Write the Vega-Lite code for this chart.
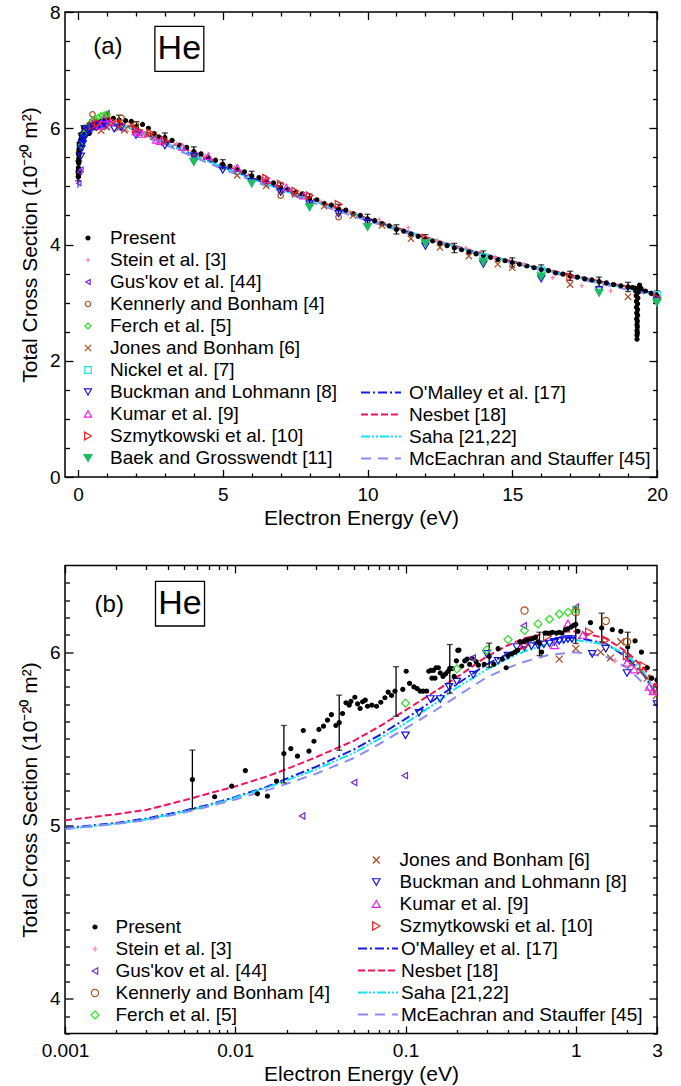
{
"$schema": "https://vega.github.io/schema/vega-lite/v6.json",
"padding": {"left": 18, "top": 2, "right": 0, "bottom": 0},
"bounds": "flush",
"spacing": 88.5,
"background": "white",
"config": {
  "view": {"stroke": "black", "strokeWidth": 1.5},
  "font": "Liberation Sans",
  "axis": {"grid": false, "domain": false, "labelFont": "Liberation Sans", "labelFontSize": 19, "labelColor": "black", "titleFont": "Liberation Sans", "titleFontSize": 21, "titleFontWeight": "normal", "titleColor": "black", "tickColor": "black", "tickWidth": 1.3, "labelFlush": false, "labelOverlap": false},
  "legend": {"labelFont": "Liberation Sans", "labelFontSize": 19, "labelColor": "black", "labelLimit": 600, "padding": 0, "rowPadding": 2, "symbolStrokeWidth": 1.2, "direction": "vertical"},
  "text": {"font": "Liberation Sans", "color": "black"}
},
"datasets": {
"pts": [
{"s":"Present","E":0.0056,"v":5.265},{"s":"Present","E":0.00757,"v":5.166},{"s":"Present","E":0.00953,"v":5.227},{"s":"Present","E":0.01146,"v":5.317},{"s":"Present","E":0.0135,"v":5.183},{"s":"Present","E":0.01545,"v":5.169},{"s":"Present","E":0.01746,"v":5.256},{"s":"Present","E":0.0193,"v":5.415},{"s":"Present","E":0.0212,"v":5.443},{"s":"Present","E":0.0232,"v":5.40},{"s":"Present","E":0.0251,"v":5.548},{"s":"Present","E":0.0271,"v":5.429},{"s":"Present","E":0.029,"v":5.486},{"s":"Present","E":0.031,"v":5.554},{"s":"Present","E":0.033,"v":5.573},{"s":"Present","E":0.0348,"v":5.608},{"s":"Present","E":0.0367,"v":5.64},{"s":"Present","E":0.039,"v":5.577},{"s":"Present","E":0.0408,"v":5.593},{"s":"Present","E":0.0427,"v":5.646},{"s":"Present","E":0.0447,"v":5.708},{"s":"Present","E":0.0467,"v":5.694},{"s":"Present","E":0.0478,"v":5.716},{"s":"Present","E":0.0504,"v":5.74},{"s":"Present","E":0.0523,"v":5.702},{"s":"Present","E":0.0541,"v":5.675},{"s":"Present","E":0.056,"v":5.714},{"s":"Present","E":0.058,"v":5.723},{"s":"Present","E":0.0598,"v":5.688},{"s":"Present","E":0.0634,"v":5.694},{"s":"Present","E":0.0676,"v":5.688},{"s":"Present","E":0.0716,"v":5.711},{"s":"Present","E":0.0757,"v":5.737},{"s":"Present","E":0.0791,"v":5.769},{"s":"Present","E":0.0828,"v":5.75},{"s":"Present","E":0.0867,"v":5.775},{"s":"Present","E":0.0964,"v":5.785},{"s":"Present","E":0.1009,"v":5.89},{"s":"Present","E":0.1056,"v":5.82},{"s":"Present","E":0.112,"v":5.80},{"s":"Present","E":0.117,"v":5.79},{"s":"Present","E":0.122,"v":5.775},{"s":"Present","E":0.127,"v":5.775},{"s":"Present","E":0.133,"v":5.775},{"s":"Present","E":0.137,"v":5.89},{"s":"Present","E":0.141,"v":5.895},{"s":"Present","E":0.146,"v":5.895},{"s":"Present","E":0.151,"v":5.91},{"s":"Present","E":0.156,"v":5.91},{"s":"Present","E":0.143,"v":5.85},{"s":"Present","E":0.149,"v":5.85},{"s":"Present","E":0.16,"v":5.88},{"s":"Present","E":0.166,"v":5.86},{"s":"Present","E":0.172,"v":5.875},{"s":"Present","E":0.178,"v":5.89},{"s":"Present","E":0.182,"v":5.906},{"s":"Present","E":0.188,"v":5.905},{"s":"Present","E":0.193,"v":5.86},{"s":"Present","E":0.199,"v":5.95},{"s":"Present","E":0.203,"v":6.01},{"s":"Present","E":0.206,"v":6.012},{"s":"Present","E":0.214,"v":5.92},{"s":"Present","E":0.223,"v":5.95},{"s":"Present","E":0.23,"v":5.96},{"s":"Present","E":0.238,"v":5.93},{"s":"Present","E":0.246,"v":5.965},{"s":"Present","E":0.26,"v":5.945},{"s":"Present","E":0.268,"v":5.925},{"s":"Present","E":0.29,"v":5.93},{"s":"Present","E":0.31,"v":5.975},{"s":"Present","E":0.33,"v":5.93},{"s":"Present","E":0.35,"v":6.02},{"s":"Present","E":0.37,"v":5.96},{"s":"Present","E":0.39,"v":5.91},{"s":"Present","E":0.4,"v":5.98},{"s":"Present","E":0.42,"v":5.99},{"s":"Present","E":0.44,"v":6.0},{"s":"Present","E":0.455,"v":6.01},{"s":"Present","E":0.47,"v":6.06},{"s":"Present","E":0.49,"v":6.06},{"s":"Present","E":0.5,"v":6.065},{"s":"Present","E":0.52,"v":6.07},{"s":"Present","E":0.545,"v":6.075},{"s":"Present","E":0.56,"v":6.08},{"s":"Present","E":0.58,"v":6.085},{"s":"Present","E":0.6,"v":6.06},{"s":"Present","E":0.612,"v":6.05},{"s":"Present","E":0.63,"v":6.0},{"s":"Present","E":0.66,"v":6.11},{"s":"Present","E":0.68,"v":6.11},{"s":"Present","E":0.71,"v":6.11},{"s":"Present","E":0.73,"v":6.115},{"s":"Present","E":0.77,"v":6.11},{"s":"Present","E":0.8,"v":6.115},{"s":"Present","E":0.83,"v":6.11},{"s":"Present","E":0.87,"v":6.13},{"s":"Present","E":0.9,"v":6.135},{"s":"Present","E":0.94,"v":6.145},{"s":"Present","E":0.97,"v":6.155},{"s":"Present","E":1.0,"v":6.16},{"s":"Present","E":1.03,"v":6.12},{"s":"Present","E":1.22,"v":6.17},{"s":"Present","E":1.42,"v":6.14},{"s":"Present","E":1.64,"v":6.13},{"s":"Present","E":1.84,"v":6.12},{"s":"Present","E":2.02,"v":6.03},{"s":"Present","E":2.23,"v":6.065},{"s":"Present","E":2.43,"v":6.0},{"s":"Present","E":2.63,"v":5.91},{"s":"Present","E":2.79,"v":5.85},
{"s":"Present","E":3.0,"v":5.84},{"s":"Present","E":3.25,"v":5.79},{"s":"Present","E":3.5,"v":5.71},{"s":"Present","E":3.75,"v":5.67},{"s":"Present","E":4.0,"v":5.6},{"s":"Present","E":4.25,"v":5.56},{"s":"Present","E":4.5,"v":5.49},{"s":"Present","E":4.75,"v":5.45},{"s":"Present","E":5.0,"v":5.38},{"s":"Present","E":5.25,"v":5.35},{"s":"Present","E":5.5,"v":5.29},{"s":"Present","E":5.75,"v":5.25},{"s":"Present","E":6.0,"v":5.18},{"s":"Present","E":6.25,"v":5.15},{"s":"Present","E":6.5,"v":5.09},{"s":"Present","E":6.75,"v":5.06},{"s":"Present","E":7.0,"v":4.98},{"s":"Present","E":7.25,"v":4.95},{"s":"Present","E":7.5,"v":4.9},{"s":"Present","E":7.75,"v":4.87},{"s":"Present","E":8.0,"v":4.79},{"s":"Present","E":8.25,"v":4.77},{"s":"Present","E":8.5,"v":4.71},{"s":"Present","E":8.75,"v":4.68},{"s":"Present","E":9.0,"v":4.61},{"s":"Present","E":9.25,"v":4.59},{"s":"Present","E":9.5,"v":4.53},{"s":"Present","E":9.75,"v":4.5},{"s":"Present","E":10.0,"v":4.44},{"s":"Present","E":10.25,"v":4.41},{"s":"Present","E":10.5,"v":4.36},{"s":"Present","E":10.75,"v":4.32},{"s":"Present","E":11.0,"v":4.26},{"s":"Present","E":11.25,"v":4.23},{"s":"Present","E":11.5,"v":4.18},{"s":"Present","E":11.75,"v":4.14},{"s":"Present","E":12.0,"v":4.09},{"s":"Present","E":12.25,"v":4.06},{"s":"Present","E":12.5,"v":4.02},{"s":"Present","E":12.75,"v":3.98},{"s":"Present","E":13.0,"v":3.94},{"s":"Present","E":13.25,"v":3.91},{"s":"Present","E":13.5,"v":3.87},{"s":"Present","E":13.75,"v":3.84},{"s":"Present","E":14.0,"v":3.81},{"s":"Present","E":14.25,"v":3.78},{"s":"Present","E":14.5,"v":3.74},{"s":"Present","E":14.75,"v":3.72},{"s":"Present","E":15.0,"v":3.69},{"s":"Present","E":15.25,"v":3.66},{"s":"Present","E":15.5,"v":3.63},{"s":"Present","E":15.75,"v":3.6},{"s":"Present","E":16.0,"v":3.57},{"s":"Present","E":16.25,"v":3.55},{"s":"Present","E":16.5,"v":3.51},{"s":"Present","E":16.75,"v":3.49},{"s":"Present","E":17.0,"v":3.46},{"s":"Present","E":17.25,"v":3.44},{"s":"Present","E":17.5,"v":3.41},{"s":"Present","E":17.75,"v":3.39},{"s":"Present","E":18.0,"v":3.36},{"s":"Present","E":18.25,"v":3.34},{"s":"Present","E":18.5,"v":3.31},{"s":"Present","E":18.75,"v":3.29},{"s":"Present","E":19.0,"v":3.27},{"s":"Present","E":19.15,"v":3.26},
{"s":"Present","E":19.23,"v":3.25},{"s":"Present","E":19.26,"v":3.2},{"s":"Present","E":19.28,"v":3.12},{"s":"Present","E":19.29,"v":3.02},{"s":"Present","E":19.29,"v":2.92},{"s":"Present","E":19.3,"v":2.82},{"s":"Present","E":19.3,"v":2.72},{"s":"Present","E":19.31,"v":2.62},{"s":"Present","E":19.31,"v":2.52},{"s":"Present","E":19.31,"v":2.44},{"s":"Present","E":19.31,"v":2.37},{"s":"Present","E":19.32,"v":2.48},{"s":"Present","E":19.32,"v":2.58},{"s":"Present","E":19.32,"v":2.68},{"s":"Present","E":19.33,"v":2.78},{"s":"Present","E":19.33,"v":2.88},{"s":"Present","E":19.33,"v":2.98},{"s":"Present","E":19.34,"v":3.08},{"s":"Present","E":19.35,"v":3.18},{"s":"Present","E":19.37,"v":3.26},{"s":"Present","E":19.4,"v":3.3},{"s":"Present","E":19.45,"v":3.24},{"s":"Present","E":19.6,"v":3.2},{"s":"Present","E":19.8,"v":3.16},{"s":"Present","E":20.0,"v":3.12},
{"s":"Stein et al. [3]","E":1.7,"v":5.95},{"s":"Stein et al. [3]","E":3.4,"v":5.73},{"s":"Stein et al. [3]","E":4.4,"v":5.52},{"s":"Stein et al. [3]","E":5.4,"v":5.33},{"s":"Stein et al. [3]","E":6.4,"v":5.12},{"s":"Stein et al. [3]","E":7.4,"v":4.93},{"s":"Stein et al. [3]","E":8.4,"v":4.74},{"s":"Stein et al. [3]","E":9.4,"v":4.56},{"s":"Stein et al. [3]","E":10.4,"v":4.43},{"s":"Stein et al. [3]","E":11.4,"v":4.29},{"s":"Stein et al. [3]","E":12.4,"v":4.07},{"s":"Stein et al. [3]","E":13.4,"v":3.94},{"s":"Stein et al. [3]","E":14.4,"v":3.78},{"s":"Stein et al. [3]","E":15.4,"v":3.66},{"s":"Stein et al. [3]","E":16.4,"v":3.43},{"s":"Stein et al. [3]","E":17.4,"v":3.29},{"s":"Stein et al. [3]","E":18.4,"v":3.2},
{"s":"Gus'kov et al. [44]","E":0.0247,"v":5.055},{"s":"Gus'kov et al. [44]","E":0.0499,"v":5.248},{"s":"Gus'kov et al. [44]","E":0.099,"v":5.288},{"s":"Gus'kov et al. [44]","E":0.248,"v":5.967},{"s":"Gus'kov et al. [44]","E":0.495,"v":6.152},{"s":"Gus'kov et al. [44]","E":1.0,"v":6.26},
{"s":"Kennerly and Bonham [4]","E":0.5,"v":6.24},{"s":"Kennerly and Bonham [4]","E":1.0,"v":6.23},{"s":"Kennerly and Bonham [4]","E":1.5,"v":6.18},{"s":"Kennerly and Bonham [4]","E":2.0,"v":6.06},{"s":"Kennerly and Bonham [4]","E":7.0,"v":4.84},{"s":"Kennerly and Bonham [4]","E":9.0,"v":4.47},
{"s":"Ferch et al. [5]","E":0.1,"v":5.706},{"s":"Ferch et al. [5]","E":0.2,"v":5.904},{"s":"Ferch et al. [5]","E":0.3,"v":6.013},{"s":"Ferch et al. [5]","E":0.4,"v":6.073},{"s":"Ferch et al. [5]","E":0.5,"v":6.125},{"s":"Ferch et al. [5]","E":0.6,"v":6.163},{"s":"Ferch et al. [5]","E":0.7,"v":6.19},{"s":"Ferch et al. [5]","E":0.8,"v":6.22},{"s":"Ferch et al. [5]","E":0.9,"v":6.23},{"s":"Ferch et al. [5]","E":1.0,"v":6.244},
{"s":"Jones and Bonham [6]","E":0.8,"v":5.96},{"s":"Jones and Bonham [6]","E":1.0,"v":6.02},{"s":"Jones and Bonham [6]","E":1.4,"v":6.0},{"s":"Jones and Bonham [6]","E":1.6,"v":5.967},{"s":"Jones and Bonham [6]","E":1.84,"v":6.06},{"s":"Jones and Bonham [6]","E":2.12,"v":5.93},{"s":"Jones and Bonham [6]","E":2.4,"v":5.89},{"s":"Jones and Bonham [6]","E":2.63,"v":5.85},{"s":"Jones and Bonham [6]","E":2.98,"v":5.75},{"s":"Jones and Bonham [6]","E":4.0,"v":5.55},{"s":"Jones and Bonham [6]","E":5.5,"v":5.19},{"s":"Jones and Bonham [6]","E":6.5,"v":5.01},{"s":"Jones and Bonham [6]","E":7.5,"v":4.86},{"s":"Jones and Bonham [6]","E":8.5,"v":4.66},{"s":"Jones and Bonham [6]","E":9.5,"v":4.5},{"s":"Jones and Bonham [6]","E":10.5,"v":4.33},{"s":"Jones and Bonham [6]","E":11.5,"v":4.1},{"s":"Jones and Bonham [6]","E":12.5,"v":3.95},{"s":"Jones and Bonham [6]","E":13.5,"v":3.8},{"s":"Jones and Bonham [6]","E":14.5,"v":3.66},{"s":"Jones and Bonham [6]","E":15.0,"v":3.6},{"s":"Jones and Bonham [6]","E":17.0,"v":3.31},{"s":"Jones and Bonham [6]","E":19.0,"v":3.1},
{"s":"Nickel et al. [7]","E":14,"v":3.78},{"s":"Nickel et al. [7]","E":16,"v":3.56},{"s":"Nickel et al. [7]","E":20,"v":3.13},
{"s":"Buckman and Lohmann [8]","E":0.1,"v":5.52},{"s":"Buckman and Lohmann [8]","E":0.12,"v":5.65},{"s":"Buckman and Lohmann [8]","E":0.14,"v":5.73},{"s":"Buckman and Lohmann [8]","E":0.16,"v":5.73},{"s":"Buckman and Lohmann [8]","E":0.18,"v":5.8},{"s":"Buckman and Lohmann [8]","E":0.2,"v":5.83},{"s":"Buckman and Lohmann [8]","E":0.25,"v":5.87},{"s":"Buckman and Lohmann [8]","E":0.3,"v":5.99},{"s":"Buckman and Lohmann [8]","E":0.35,"v":5.95},{"s":"Buckman and Lohmann [8]","E":0.4,"v":5.98},{"s":"Buckman and Lohmann [8]","E":0.45,"v":6.03},{"s":"Buckman and Lohmann [8]","E":0.5,"v":6.03},{"s":"Buckman and Lohmann [8]","E":0.55,"v":6.035},{"s":"Buckman and Lohmann [8]","E":0.6,"v":6.04},{"s":"Buckman and Lohmann [8]","E":0.65,"v":6.045},{"s":"Buckman and Lohmann [8]","E":0.7,"v":6.05},{"s":"Buckman and Lohmann [8]","E":0.75,"v":6.06},{"s":"Buckman and Lohmann [8]","E":0.8,"v":6.065},{"s":"Buckman and Lohmann [8]","E":0.85,"v":6.07},{"s":"Buckman and Lohmann [8]","E":0.9,"v":6.075},{"s":"Buckman and Lohmann [8]","E":0.95,"v":6.075},{"s":"Buckman and Lohmann [8]","E":1.25,"v":5.99},{"s":"Buckman and Lohmann [8]","E":1.5,"v":6.02},{"s":"Buckman and Lohmann [8]","E":2.0,"v":5.88},{"s":"Buckman and Lohmann [8]","E":3.0,"v":5.7},{"s":"Buckman and Lohmann [8]","E":4,"v":5.52},{"s":"Buckman and Lohmann [8]","E":5,"v":5.28},{"s":"Buckman and Lohmann [8]","E":6,"v":5.08},{"s":"Buckman and Lohmann [8]","E":7,"v":4.9},{"s":"Buckman and Lohmann [8]","E":8,"v":4.7},{"s":"Buckman and Lohmann [8]","E":9,"v":4.53},{"s":"Buckman and Lohmann [8]","E":10,"v":4.38},{"s":"Buckman and Lohmann [8]","E":12,"v":3.97},{"s":"Buckman and Lohmann [8]","E":14,"v":3.66},{"s":"Buckman and Lohmann [8]","E":16,"v":3.41},{"s":"Buckman and Lohmann [8]","E":18,"v":3.22},{"s":"Buckman and Lohmann [8]","E":20,"v":3.04},
{"s":"Kumar et al. [9]","E":0.75,"v":6.04},{"s":"Kumar et al. [9]","E":0.9,"v":6.165},{"s":"Kumar et al. [9]","E":1.1,"v":6.1},{"s":"Kumar et al. [9]","E":2.0,"v":5.94},{"s":"Kumar et al. [9]","E":2.2,"v":5.9},{"s":"Kumar et al. [9]","E":2.7,"v":5.8},{"s":"Kumar et al. [9]","E":2.85,"v":5.775},{"s":"Kumar et al. [9]","E":3.6,"v":5.68},{"s":"Kumar et al. [9]","E":4.5,"v":5.52},{"s":"Kumar et al. [9]","E":5.5,"v":5.32},{"s":"Kumar et al. [9]","E":6.5,"v":5.12},{"s":"Kumar et al. [9]","E":7.2,"v":4.98},{"s":"Kumar et al. [9]","E":7.8,"v":4.84},
{"s":"Szmytkowski et al. [10]","E":0.5,"v":6.04},{"s":"Szmytkowski et al. [10]","E":0.68,"v":6.09},{"s":"Szmytkowski et al. [10]","E":1.2,"v":6.115},{"s":"Szmytkowski et al. [10]","E":1.5,"v":6.07},{"s":"Szmytkowski et al. [10]","E":2.0,"v":5.98},{"s":"Szmytkowski et al. [10]","E":2.5,"v":5.92},{"s":"Szmytkowski et al. [10]","E":3.0,"v":5.79},{"s":"Szmytkowski et al. [10]","E":6.5,"v":5.14},{"s":"Szmytkowski et al. [10]","E":7.0,"v":5.04},{"s":"Szmytkowski et al. [10]","E":7.5,"v":4.92},{"s":"Szmytkowski et al. [10]","E":8.0,"v":4.84},{"s":"Szmytkowski et al. [10]","E":9.0,"v":4.69},{"s":"Szmytkowski et al. [10]","E":12.0,"v":4.11},{"s":"Szmytkowski et al. [10]","E":17.0,"v":3.44},{"s":"Szmytkowski et al. [10]","E":20.0,"v":3.08},
{"s":"Baek and Grosswendt [11]","E":4,"v":5.42},{"s":"Baek and Grosswendt [11]","E":6,"v":5.05},{"s":"Baek and Grosswendt [11]","E":8,"v":4.64},{"s":"Baek and Grosswendt [11]","E":10,"v":4.3},{"s":"Baek and Grosswendt [11]","E":12,"v":4.02},{"s":"Baek and Grosswendt [11]","E":14,"v":3.7},{"s":"Baek and Grosswendt [11]","E":16,"v":3.45},{"s":"Baek and Grosswendt [11]","E":18,"v":3.17},{"s":"Baek and Grosswendt [11]","E":20,"v":3.0}
],
"eb": [
{"E":0.0056,"lo":5.096,"hi":5.435},{"E":0.0193,"lo":5.246,"hi":5.577},{"E":0.0408,"lo":5.434,"hi":5.752},{"E":0.088,"lo":5.63,"hi":5.916},{"E":0.182,"lo":5.763,"hi":6.044},{"E":0.31,"lo":5.913,"hi":6.052},{"E":0.612,"lo":5.98,"hi":6.115},{"E":1.0,"lo":6.05,"hi":6.26},{"E":1.42,"lo":6.06,"hi":6.225},{"E":2.02,"lo":5.95,"hi":6.115},
{"E":3,"lo":5.76,"hi":5.92},{"E":4,"lo":5.52,"hi":5.68},{"E":5,"lo":5.3,"hi":5.46},{"E":6,"lo":5.1,"hi":5.26},{"E":7,"lo":4.9,"hi":5.06},{"E":8,"lo":4.71,"hi":4.87},{"E":9,"lo":4.53,"hi":4.69},{"E":10,"lo":4.36,"hi":4.52},{"E":11,"lo":4.18,"hi":4.34},{"E":12,"lo":4.01,"hi":4.17},{"E":13,"lo":3.86,"hi":4.02},{"E":14,"lo":3.73,"hi":3.89},{"E":15,"lo":3.61,"hi":3.77},{"E":16,"lo":3.49,"hi":3.65},{"E":17,"lo":3.38,"hi":3.54},{"E":18,"lo":3.28,"hi":3.44},{"E":19,"lo":3.19,"hi":3.35},{"E":20,"lo":3.04,"hi":3.2}
],
"lns": [
{"m":"O'Malley et al. [17]","E":0.001,"v":4.985},{"m":"O'Malley et al. [17]","E":0.002,"v":5.015},{"m":"O'Malley et al. [17]","E":0.003,"v":5.04},{"m":"O'Malley et al. [17]","E":0.005,"v":5.085},{"m":"O'Malley et al. [17]","E":0.007,"v":5.12},{"m":"O'Malley et al. [17]","E":0.01,"v":5.165},{"m":"O'Malley et al. [17]","E":0.015,"v":5.22},{"m":"O'Malley et al. [17]","E":0.02,"v":5.27},{"m":"O'Malley et al. [17]","E":0.03,"v":5.34},{"m":"O'Malley et al. [17]","E":0.05,"v":5.44},{"m":"O'Malley et al. [17]","E":0.07,"v":5.52},{"m":"O'Malley et al. [17]","E":0.1,"v":5.615},{"m":"O'Malley et al. [17]","E":0.15,"v":5.73},{"m":"O'Malley et al. [17]","E":0.2,"v":5.815},{"m":"O'Malley et al. [17]","E":0.3,"v":5.93},{"m":"O'Malley et al. [17]","E":0.4,"v":5.99},{"m":"O'Malley et al. [17]","E":0.5,"v":6.03},{"m":"O'Malley et al. [17]","E":0.7,"v":6.07},{"m":"O'Malley et al. [17]","E":1,"v":6.085},{"m":"O'Malley et al. [17]","E":1.5,"v":6.05},{"m":"O'Malley et al. [17]","E":2,"v":5.97},{"m":"O'Malley et al. [17]","E":2.5,"v":5.87},{"m":"O'Malley et al. [17]","E":3,"v":5.75},{"m":"O'Malley et al. [17]","E":4,"v":5.54},{"m":"O'Malley et al. [17]","E":5,"v":5.34},{"m":"O'Malley et al. [17]","E":6,"v":5.14},{"m":"O'Malley et al. [17]","E":7,"v":4.96},{"m":"O'Malley et al. [17]","E":8,"v":4.78},{"m":"O'Malley et al. [17]","E":9,"v":4.6},{"m":"O'Malley et al. [17]","E":10,"v":4.44},{"m":"O'Malley et al. [17]","E":11,"v":4.28},{"m":"O'Malley et al. [17]","E":12,"v":4.12},{"m":"O'Malley et al. [17]","E":13,"v":3.97},{"m":"O'Malley et al. [17]","E":14,"v":3.83},{"m":"O'Malley et al. [17]","E":15,"v":3.7},{"m":"O'Malley et al. [17]","E":16,"v":3.58},{"m":"O'Malley et al. [17]","E":17,"v":3.47},{"m":"O'Malley et al. [17]","E":18,"v":3.36},{"m":"O'Malley et al. [17]","E":19,"v":3.25},{"m":"O'Malley et al. [17]","E":20,"v":3.15},
{"m":"Nesbet [18]","E":0.001,"v":5.03},{"m":"Nesbet [18]","E":0.002,"v":5.065},{"m":"Nesbet [18]","E":0.003,"v":5.09},{"m":"Nesbet [18]","E":0.005,"v":5.145},{"m":"Nesbet [18]","E":0.007,"v":5.185},{"m":"Nesbet [18]","E":0.01,"v":5.225},{"m":"Nesbet [18]","E":0.015,"v":5.28},{"m":"Nesbet [18]","E":0.02,"v":5.325},{"m":"Nesbet [18]","E":0.03,"v":5.395},{"m":"Nesbet [18]","E":0.05,"v":5.49},{"m":"Nesbet [18]","E":0.07,"v":5.57},{"m":"Nesbet [18]","E":0.1,"v":5.665},{"m":"Nesbet [18]","E":0.15,"v":5.775},{"m":"Nesbet [18]","E":0.2,"v":5.855},{"m":"Nesbet [18]","E":0.3,"v":5.975},{"m":"Nesbet [18]","E":0.4,"v":6.04},{"m":"Nesbet [18]","E":0.5,"v":6.08},{"m":"Nesbet [18]","E":0.7,"v":6.115},{"m":"Nesbet [18]","E":1,"v":6.12},{"m":"Nesbet [18]","E":1.5,"v":6.08},{"m":"Nesbet [18]","E":2,"v":6.0},{"m":"Nesbet [18]","E":2.5,"v":5.91},{"m":"Nesbet [18]","E":3,"v":5.8},{"m":"Nesbet [18]","E":4,"v":5.58},{"m":"Nesbet [18]","E":5,"v":5.38},{"m":"Nesbet [18]","E":6,"v":5.18},{"m":"Nesbet [18]","E":7,"v":4.99},{"m":"Nesbet [18]","E":8,"v":4.8},{"m":"Nesbet [18]","E":9,"v":4.62},{"m":"Nesbet [18]","E":10,"v":4.45},{"m":"Nesbet [18]","E":11,"v":4.29},{"m":"Nesbet [18]","E":12,"v":4.13},{"m":"Nesbet [18]","E":13,"v":3.98},{"m":"Nesbet [18]","E":14,"v":3.84},{"m":"Nesbet [18]","E":15,"v":3.71},{"m":"Nesbet [18]","E":16,"v":3.59},{"m":"Nesbet [18]","E":17,"v":3.48},{"m":"Nesbet [18]","E":18,"v":3.37},{"m":"Nesbet [18]","E":19,"v":3.27},{"m":"Nesbet [18]","E":20,"v":3.17},
{"m":"Saha [21,22]","E":0.001,"v":4.98},{"m":"Saha [21,22]","E":0.002,"v":5.01},{"m":"Saha [21,22]","E":0.003,"v":5.035},{"m":"Saha [21,22]","E":0.005,"v":5.08},{"m":"Saha [21,22]","E":0.007,"v":5.115},{"m":"Saha [21,22]","E":0.01,"v":5.16},{"m":"Saha [21,22]","E":0.015,"v":5.215},{"m":"Saha [21,22]","E":0.02,"v":5.26},{"m":"Saha [21,22]","E":0.03,"v":5.325},{"m":"Saha [21,22]","E":0.05,"v":5.42},{"m":"Saha [21,22]","E":0.07,"v":5.5},{"m":"Saha [21,22]","E":0.1,"v":5.59},{"m":"Saha [21,22]","E":0.15,"v":5.705},{"m":"Saha [21,22]","E":0.2,"v":5.795},{"m":"Saha [21,22]","E":0.3,"v":5.9},{"m":"Saha [21,22]","E":0.4,"v":5.965},{"m":"Saha [21,22]","E":0.5,"v":6.005},{"m":"Saha [21,22]","E":0.7,"v":6.05},{"m":"Saha [21,22]","E":1,"v":6.07},{"m":"Saha [21,22]","E":1.5,"v":6.045},{"m":"Saha [21,22]","E":2,"v":5.985},{"m":"Saha [21,22]","E":2.5,"v":5.885},{"m":"Saha [21,22]","E":3,"v":5.76},{"m":"Saha [21,22]","E":4,"v":5.53},{"m":"Saha [21,22]","E":5,"v":5.33},{"m":"Saha [21,22]","E":6,"v":5.13},{"m":"Saha [21,22]","E":7,"v":4.95},{"m":"Saha [21,22]","E":8,"v":4.77},{"m":"Saha [21,22]","E":9,"v":4.6},{"m":"Saha [21,22]","E":10,"v":4.44},{"m":"Saha [21,22]","E":11,"v":4.28},{"m":"Saha [21,22]","E":12,"v":4.12},{"m":"Saha [21,22]","E":13,"v":3.97},{"m":"Saha [21,22]","E":14,"v":3.83},{"m":"Saha [21,22]","E":15,"v":3.7},{"m":"Saha [21,22]","E":16,"v":3.58},{"m":"Saha [21,22]","E":17,"v":3.46},{"m":"Saha [21,22]","E":18,"v":3.35},{"m":"Saha [21,22]","E":19,"v":3.24},{"m":"Saha [21,22]","E":20,"v":3.13},
{"m":"McEachran and Stauffer [45]","E":0.001,"v":4.98},{"m":"McEachran and Stauffer [45]","E":0.002,"v":5.01},{"m":"McEachran and Stauffer [45]","E":0.003,"v":5.03},{"m":"McEachran and Stauffer [45]","E":0.005,"v":5.075},{"m":"McEachran and Stauffer [45]","E":0.007,"v":5.11},{"m":"McEachran and Stauffer [45]","E":0.01,"v":5.15},{"m":"McEachran and Stauffer [45]","E":0.015,"v":5.2},{"m":"McEachran and Stauffer [45]","E":0.02,"v":5.24},{"m":"McEachran and Stauffer [45]","E":0.03,"v":5.3},{"m":"McEachran and Stauffer [45]","E":0.05,"v":5.39},{"m":"McEachran and Stauffer [45]","E":0.07,"v":5.47},{"m":"McEachran and Stauffer [45]","E":0.1,"v":5.56},{"m":"McEachran and Stauffer [45]","E":0.15,"v":5.665},{"m":"McEachran and Stauffer [45]","E":0.2,"v":5.745},{"m":"McEachran and Stauffer [45]","E":0.3,"v":5.855},{"m":"McEachran and Stauffer [45]","E":0.4,"v":5.91},{"m":"McEachran and Stauffer [45]","E":0.5,"v":5.945},{"m":"McEachran and Stauffer [45]","E":0.7,"v":5.985},{"m":"McEachran and Stauffer [45]","E":1,"v":6.0},{"m":"McEachran and Stauffer [45]","E":1.5,"v":5.975},{"m":"McEachran and Stauffer [45]","E":2,"v":5.91},{"m":"McEachran and Stauffer [45]","E":2.5,"v":5.82},{"m":"McEachran and Stauffer [45]","E":3,"v":5.72},{"m":"McEachran and Stauffer [45]","E":4,"v":5.5},{"m":"McEachran and Stauffer [45]","E":5,"v":5.3},{"m":"McEachran and Stauffer [45]","E":6,"v":5.1},{"m":"McEachran and Stauffer [45]","E":7,"v":4.92},{"m":"McEachran and Stauffer [45]","E":8,"v":4.74},{"m":"McEachran and Stauffer [45]","E":9,"v":4.57},{"m":"McEachran and Stauffer [45]","E":10,"v":4.41},{"m":"McEachran and Stauffer [45]","E":11,"v":4.25},{"m":"McEachran and Stauffer [45]","E":12,"v":4.1},{"m":"McEachran and Stauffer [45]","E":13,"v":3.95},{"m":"McEachran and Stauffer [45]","E":14,"v":3.81},{"m":"McEachran and Stauffer [45]","E":15,"v":3.68},{"m":"McEachran and Stauffer [45]","E":16,"v":3.56},{"m":"McEachran and Stauffer [45]","E":17,"v":3.44},{"m":"McEachran and Stauffer [45]","E":18,"v":3.33},{"m":"McEachran and Stauffer [45]","E":19,"v":3.22},{"m":"McEachran and Stauffer [45]","E":20,"v":3.11}
]
},
"vconcat": [
{
 "width": 592, "height": 465,
 "resolve": {"scale": {"stroke": "independent", "fill": "independent", "shape": "independent", "size": "independent", "color": "independent", "strokeDash": "independent"}, "axis": {"x": "independent", "y": "independent"}},
 "layer": [
  {"data": {"name": "lns"}, "mark": {"type": "line", "strokeWidth": 2, "clip": true},
   "encoding": {
    "x": {"field": "E", "type": "quantitative", "scale": {"domain": [-0.45, 20], "nice": false, "zero": false}, "axis": {"orient": "top", "values": [0, 5, 10, 15, 20], "tickSize": -7.5, "labels": false, "title": null}},
    "y": {"field": "v", "type": "quantitative", "scale": {"domain": [0, 8], "nice": false, "zero": false}, "axis": {"orient": "right", "values": [0, 2, 4, 6, 8], "tickSize": -8, "labels": false, "title": null}},
    "color": {"field": "m", "type": "nominal", "scale": {"domain": ["O'Malley et al. [17]", "Nesbet [18]", "Saha [21,22]", "McEachran and Stauffer [45]"], "range": ["#1a1ae8", "#f0145a", "#12e2f5", "#8c8cf0"]},
     "legend": {"orient": "none", "legendX": 306.5, "legendY": 371, "title": null, "symbolType": "M-4,0L4,0", "symbolSize": 100, "symbolStrokeWidth": 2, "labelOffset": 18.5}},
    "strokeDash": {"field": "m", "type": "nominal", "scale": {"domain": ["O'Malley et al. [17]", "Nesbet [18]", "Saha [21,22]", "McEachran and Stauffer [45]"], "range": [[9, 3, 2, 3], [7, 3], [9, 2, 2, 2, 2, 2], [10, 7]]},
     "legend": {"orient": "none", "legendX": 306.5, "legendY": 371, "title": null, "symbolType": "M-4,0L4,0", "symbolSize": 100, "symbolStrokeWidth": 2, "labelOffset": 18.5}}
   }},
  {"data": {"name": "eb"}, "mark": {"type": "rule", "color": "black", "strokeWidth": 1.3},
   "encoding": {
    "x": {"field": "E", "type": "quantitative", "scale": {"domain": [-0.45, 20], "nice": false, "zero": false}, "axis": {"orient": "bottom", "values": [1, 2, 3, 4, 6, 7, 8, 9, 11, 12, 13, 14, 16, 17, 18, 19], "tickSize": -4, "labels": false, "title": null}},
    "y": {"field": "lo", "type": "quantitative", "scale": {"domain": [0, 8], "nice": false, "zero": false}, "axis": {"orient": "left", "values": [0.5, 1, 1.5, 2.5, 3, 3.5, 4.5, 5, 5.5, 6.5, 7, 7.5], "tickSize": -4.5, "labels": false, "title": null}},
    "y2": {"field": "hi"}
   }},
  {"data": {"name": "eb"}, "transform": [{"fold": ["lo", "hi"], "as": ["k", "val"]}],
   "mark": {"type": "tick", "orient": "horizontal", "color": "black", "size": 6, "thickness": 1.3},
   "encoding": {
    "x": {"field": "E", "type": "quantitative", "scale": {"domain": [-0.45, 20], "nice": false, "zero": false}, "axis": {"orient": "top", "values": [1, 2, 3, 4, 6, 7, 8, 9, 11, 12, 13, 14, 16, 17, 18, 19], "tickSize": -4, "labels": false, "title": null}},
    "y": {"field": "val", "type": "quantitative", "scale": {"domain": [0, 8], "nice": false, "zero": false}, "axis": {"orient": "right", "values": [0.5, 1, 1.5, 2.5, 3, 3.5, 4.5, 5, 5.5, 6.5, 7, 7.5], "tickSize": -4.5, "labels": false, "title": null}}
   }},
  {"data": {"name": "pts"}, "mark": {"type": "point", "strokeWidth": 1.2, "opacity": 1},
   "encoding": {
    "x": {"field": "E", "type": "quantitative", "scale": {"domain": [-0.45, 20], "nice": false, "zero": false}, "axis": {"orient": "bottom", "values": [0, 5, 10, 15, 20], "format": "d", "tickSize": -7.5, "labelPadding": 16, "title": "Electron Energy (eV)", "titlePadding": 3}},
    "y": {"field": "v", "type": "quantitative", "scale": {"domain": [0, 8], "nice": false, "zero": false}, "axis": {"orient": "left", "values": [0, 2, 4, 6, 8], "format": "d", "tickSize": -8, "labelPadding": 13, "title": "Total Cross Section (10⁻²⁰ m²)", "titlePadding": 9}},
    "stroke": {"field": "s", "type": "nominal",
     "scale": {"domain": ["Present", "Stein et al. [3]", "Gus'kov et al. [44]", "Kennerly and Bonham [4]", "Ferch et al. [5]", "Jones and Bonham [6]", "Nickel et al. [7]", "Buckman and Lohmann [8]", "Kumar et al. [9]", "Szmytkowski et al. [10]", "Baek and Grosswendt [11]"],
      "range": ["#000000", "#f77fa8", "#7a2bd6", "#b0521f", "#2be020", "#a8481c", "#1ee6f0", "#1414e0", "#f01ee8", "#f51d1d", "#1ebc64"]},
     "legend": {"orient": "none", "legendX": 13.5, "legendY": 216.5, "title": null, "labelOffset": 12.5}},
    "fill": {"field": "s", "type": "nominal",
     "scale": {"domain": ["Present", "Stein et al. [3]", "Gus'kov et al. [44]", "Kennerly and Bonham [4]", "Ferch et al. [5]", "Jones and Bonham [6]", "Nickel et al. [7]", "Buckman and Lohmann [8]", "Kumar et al. [9]", "Szmytkowski et al. [10]", "Baek and Grosswendt [11]"],
      "range": ["#000000", "transparent", "transparent", "transparent", "transparent", "transparent", "transparent", "transparent", "transparent", "transparent", "#1ebc64"]},
     "legend": {"orient": "none", "legendX": 13.5, "legendY": 216.5, "title": null, "labelOffset": 12.5}},
    "shape": {"field": "s", "type": "nominal",
     "scale": {"domain": ["Present", "Stein et al. [3]", "Gus'kov et al. [44]", "Kennerly and Bonham [4]", "Ferch et al. [5]", "Jones and Bonham [6]", "Nickel et al. [7]", "Buckman and Lohmann [8]", "Kumar et al. [9]", "Szmytkowski et al. [10]", "Baek and Grosswendt [11]"],
      "range": ["circle", "M-1,0L1,0M0,-1L0,1", "triangle-left", "circle", "diamond", "M-1,-1L1,1M-1,1L1,-1", "square", "triangle-down", "triangle-up", "triangle-right", "triangle-down"]},
     "legend": {"orient": "none", "legendX": 13.5, "legendY": 216.5, "title": null, "labelOffset": 12.5}},
    "size": {"field": "s", "type": "nominal",
     "scale": {"domain": ["Present", "Stein et al. [3]", "Gus'kov et al. [44]", "Kennerly and Bonham [4]", "Ferch et al. [5]", "Jones and Bonham [6]", "Nickel et al. [7]", "Buckman and Lohmann [8]", "Kumar et al. [9]", "Szmytkowski et al. [10]", "Baek and Grosswendt [11]"],
      "range": [16, 64, 70, 56, 81, 49, 56, 70, 70, 70, 81]},
     "legend": {"orient": "none", "legendX": 13.5, "legendY": 216.5, "title": null, "labelOffset": 12.5}}
   }},
  {"data": {"values": [{}]}, "mark": {"type": "rect", "fill": "white", "stroke": "black", "strokeWidth": 1.3},
   "encoding": {"x": {"datum": 2.655, "type": "quantitative", "axis": null}, "x2": {"datum": 4.345}, "y": {"datum": 7.753, "type": "quantitative", "axis": null}, "y2": {"datum": 6.978}}},
  {"data": {"values": [{}]}, "mark": {"type": "text", "fontSize": 34, "align": "center", "baseline": "middle"},
   "encoding": {"x": {"datum": 3.5, "type": "quantitative", "axis": null}, "y": {"datum": 7.36, "type": "quantitative", "axis": null}, "text": {"value": "He"}}},
  {"data": {"values": [{}]}, "mark": {"type": "text", "fontSize": 24, "align": "center", "baseline": "middle"},
   "encoding": {"x": {"datum": 1.03, "type": "quantitative", "axis": null}, "y": {"datum": 7.39, "type": "quantitative", "axis": null}, "text": {"value": "(a)"}}}
 ]
},
{
 "width": 592, "height": 468,
 "resolve": {"scale": {"stroke": "independent", "fill": "independent", "shape": "independent", "size": "independent", "color": "independent", "strokeDash": "independent"}, "axis": {"x": "independent", "y": "independent"}},
 "layer": [
  {"data": {"name": "lns"}, "transform": [{"filter": {"field": "E", "lte": 3}}], "mark": {"type": "line", "strokeWidth": 2, "clip": true},
   "encoding": {
    "x": {"field": "E", "type": "quantitative", "scale": {"type": "log", "domain": [0.001, 3], "nice": false}, "axis": {"orient": "top", "values": [0.001, 0.01, 0.1, 1], "tickSize": -7.5, "labels": false, "title": null}},
    "y": {"field": "v", "type": "quantitative", "scale": {"domain": [3.8, 6.5], "nice": false, "zero": false}, "axis": {"orient": "right", "values": [4, 5, 6], "tickSize": -8, "labels": false, "title": null}},
    "color": {"field": "m", "type": "nominal", "scale": {"domain": ["O'Malley et al. [17]", "Nesbet [18]", "Saha [21,22]", "McEachran and Stauffer [45]"], "range": ["#1a1ae8", "#f0145a", "#12e2f5", "#8c8cf0"]},
     "legend": {"orient": "none", "legendX": 303.5, "legendY": 373.5, "title": null, "symbolType": "M-4,0L4,0", "symbolSize": 100, "symbolStrokeWidth": 2, "labelOffset": 13.5}},
    "strokeDash": {"field": "m", "type": "nominal", "scale": {"domain": ["O'Malley et al. [17]", "Nesbet [18]", "Saha [21,22]", "McEachran and Stauffer [45]"], "range": [[9, 3, 2, 3], [7, 3], [9, 2, 2, 2, 2, 2], [10, 7]]},
     "legend": {"orient": "none", "legendX": 303.5, "legendY": 373.5, "title": null, "symbolType": "M-4,0L4,0", "symbolSize": 100, "symbolStrokeWidth": 2, "labelOffset": 13.5}}
   }},
  {"data": {"name": "eb"}, "transform": [{"filter": {"field": "E", "lt": 2.9}}], "mark": {"type": "rule", "color": "black", "strokeWidth": 1.3},
   "encoding": {
    "x": {"field": "E", "type": "quantitative", "scale": {"type": "log", "domain": [0.001, 3], "nice": false}, "axis": {"orient": "bottom", "values": [0.002, 0.003, 0.004, 0.005, 0.006, 0.007, 0.008, 0.009, 0.02, 0.03, 0.04, 0.05, 0.06, 0.07, 0.08, 0.09, 0.2, 0.3, 0.4, 0.5, 0.6, 0.7, 0.8, 0.9, 2], "tickSize": -4, "labels": false, "title": null}},
    "y": {"field": "lo", "type": "quantitative", "scale": {"domain": [3.8, 6.5], "nice": false, "zero": false}, "axis": {"orient": "left", "values": [3.8, 3.9, 4.1, 4.2, 4.3, 4.4, 4.5, 4.6, 4.7, 4.8, 4.9, 5.1, 5.2, 5.3, 5.4, 5.5, 5.6, 5.7, 5.8, 5.9, 6.1, 6.2, 6.3, 6.4], "tickSize": -4.5, "labels": false, "title": null}},
    "y2": {"field": "hi"}
   }},
  {"data": {"name": "eb"}, "transform": [{"filter": {"field": "E", "lt": 2.9}}, {"fold": ["lo", "hi"], "as": ["k", "val"]}],
   "mark": {"type": "tick", "orient": "horizontal", "color": "black", "size": 6, "thickness": 1.3},
   "encoding": {
    "x": {"field": "E", "type": "quantitative", "scale": {"type": "log", "domain": [0.001, 3], "nice": false}, "axis": {"orient": "top", "values": [0.002, 0.003, 0.004, 0.005, 0.006, 0.007, 0.008, 0.009, 0.02, 0.03, 0.04, 0.05, 0.06, 0.07, 0.08, 0.09, 0.2, 0.3, 0.4, 0.5, 0.6, 0.7, 0.8, 0.9, 2], "tickSize": -4, "labels": false, "title": null}},
    "y": {"field": "val", "type": "quantitative", "scale": {"domain": [3.8, 6.5], "nice": false, "zero": false}, "axis": {"orient": "right", "values": [3.8, 3.9, 4.1, 4.2, 4.3, 4.4, 4.5, 4.6, 4.7, 4.8, 4.9, 5.1, 5.2, 5.3, 5.4, 5.5, 5.6, 5.7, 5.8, 5.9, 6.1, 6.2, 6.3, 6.4], "tickSize": -4.5, "labels": false, "title": null}}
   }},
  {"data": {"name": "pts"}, "transform": [{"filter": {"field": "s", "oneOf": ["Jones and Bonham [6]", "Buckman and Lohmann [8]", "Kumar et al. [9]", "Szmytkowski et al. [10]"]}}, {"filter": {"field": "E", "lte": 3}}],
   "mark": {"type": "point", "strokeWidth": 1.2, "opacity": 1, "clip": true},
   "encoding": {
    "x": {"field": "E", "type": "quantitative", "scale": {"type": "log", "domain": [0.001, 3], "nice": false}, "axis": null},
    "y": {"field": "v", "type": "quantitative", "scale": {"domain": [3.8, 6.5], "nice": false, "zero": false}, "axis": null},
    "stroke": {"field": "s", "type": "nominal", "scale": {"domain": ["Jones and Bonham [6]", "Buckman and Lohmann [8]", "Kumar et al. [9]", "Szmytkowski et al. [10]"], "range": ["#a8481c", "#1414e0", "#f01ee8", "#f51d1d"]},
     "legend": {"orient": "none", "legendX": 301.8, "legendY": 285, "title": null, "labelOffset": 13.8}},
    "fill": {"field": "s", "type": "nominal", "scale": {"domain": ["Jones and Bonham [6]", "Buckman and Lohmann [8]", "Kumar et al. [9]", "Szmytkowski et al. [10]"], "range": ["transparent", "transparent", "transparent", "transparent"]},
     "legend": {"orient": "none", "legendX": 301.8, "legendY": 285, "title": null, "labelOffset": 13.8}},
    "shape": {"field": "s", "type": "nominal", "scale": {"domain": ["Jones and Bonham [6]", "Buckman and Lohmann [8]", "Kumar et al. [9]", "Szmytkowski et al. [10]"], "range": ["M-1,-1L1,1M-1,1L1,-1", "triangle-down", "triangle-up", "triangle-right"]},
     "legend": {"orient": "none", "legendX": 301.8, "legendY": 285, "title": null, "labelOffset": 13.8}},
    "size": {"field": "s", "type": "nominal", "scale": {"domain": ["Jones and Bonham [6]", "Buckman and Lohmann [8]", "Kumar et al. [9]", "Szmytkowski et al. [10]"], "range": [49, 70, 70, 70]},
     "legend": {"orient": "none", "legendX": 301.8, "legendY": 285, "title": null, "labelOffset": 13.8}}
   }},
  {"data": {"name": "pts"}, "transform": [{"filter": {"field": "s", "oneOf": ["Present", "Stein et al. [3]", "Gus'kov et al. [44]", "Kennerly and Bonham [4]", "Ferch et al. [5]"]}}, {"filter": {"field": "E", "lte": 3}}],
   "mark": {"type": "point", "strokeWidth": 1.2, "opacity": 1, "clip": true},
   "encoding": {
    "x": {"field": "E", "type": "quantitative", "scale": {"type": "log", "domain": [0.001, 3], "nice": false}, "axis": {"orient": "bottom", "values": [0.001, 0.01, 0.1, 1, 3], "labelExpr": "format(datum.value, '~g')", "tickSize": -7.5, "labelPadding": 15, "title": "Electron Energy (eV)", "titlePadding": 3}},
    "y": {"field": "v", "type": "quantitative", "scale": {"domain": [3.8, 6.5], "nice": false, "zero": false}, "axis": {"orient": "left", "values": [4, 5, 6], "format": "d", "tickSize": -8, "labelPadding": 13, "title": "Total Cross Section (10⁻²⁰ m²)", "titlePadding": 9}},
    "stroke": {"field": "s", "type": "nominal", "scale": {"domain": ["Present", "Stein et al. [3]", "Gus'kov et al. [44]", "Kennerly and Bonham [4]", "Ferch et al. [5]"], "range": ["#000000", "#f77fa8", "#7a2bd6", "#b0521f", "#2be020"]},
     "legend": {"orient": "none", "legendX": 20.5, "legendY": 352, "title": null, "labelOffset": 11}},
    "fill": {"field": "s", "type": "nominal", "scale": {"domain": ["Present", "Stein et al. [3]", "Gus'kov et al. [44]", "Kennerly and Bonham [4]", "Ferch et al. [5]"], "range": ["#000000", "transparent", "transparent", "transparent", "transparent"]},
     "legend": {"orient": "none", "legendX": 20.5, "legendY": 352, "title": null, "labelOffset": 11}},
    "shape": {"field": "s", "type": "nominal", "scale": {"domain": ["Present", "Stein et al. [3]", "Gus'kov et al. [44]", "Kennerly and Bonham [4]", "Ferch et al. [5]"], "range": ["circle", "M-1,0L1,0M0,-1L0,1", "triangle-left", "circle", "diamond"]},
     "legend": {"orient": "none", "legendX": 20.5, "legendY": 352, "title": null, "labelOffset": 11}},
    "size": {"field": "s", "type": "nominal", "scale": {"domain": ["Present", "Stein et al. [3]", "Gus'kov et al. [44]", "Kennerly and Bonham [4]", "Ferch et al. [5]"], "range": [16, 64, 70, 56, 81]},
     "legend": {"orient": "none", "legendX": 20.5, "legendY": 352, "title": null, "labelOffset": 11}}
   }},
  {"data": {"values": [{}]}, "mark": {"type": "rect", "fill": "white", "stroke": "black", "strokeWidth": 1.3},
   "encoding": {"x": {"datum": 0.0034, "type": "quantitative", "axis": null}, "x2": {"datum": 0.0066}, "y": {"datum": 6.408, "type": "quantitative", "axis": null}, "y2": {"datum": 6.151}}},
  {"data": {"values": [{}]}, "mark": {"type": "text", "fontSize": 34, "align": "center", "baseline": "middle"},
   "encoding": {"x": {"datum": 0.00474, "type": "quantitative", "axis": null}, "y": {"datum": 6.28, "type": "quantitative", "axis": null}, "text": {"value": "He"}}},
  {"data": {"values": [{}]}, "mark": {"type": "text", "fontSize": 24, "align": "center", "baseline": "middle"},
   "encoding": {"x": {"datum": 0.00182, "type": "quantitative", "axis": null}, "y": {"datum": 6.275, "type": "quantitative", "axis": null}, "text": {"value": "(b)"}}}
 ]
}
]
}
